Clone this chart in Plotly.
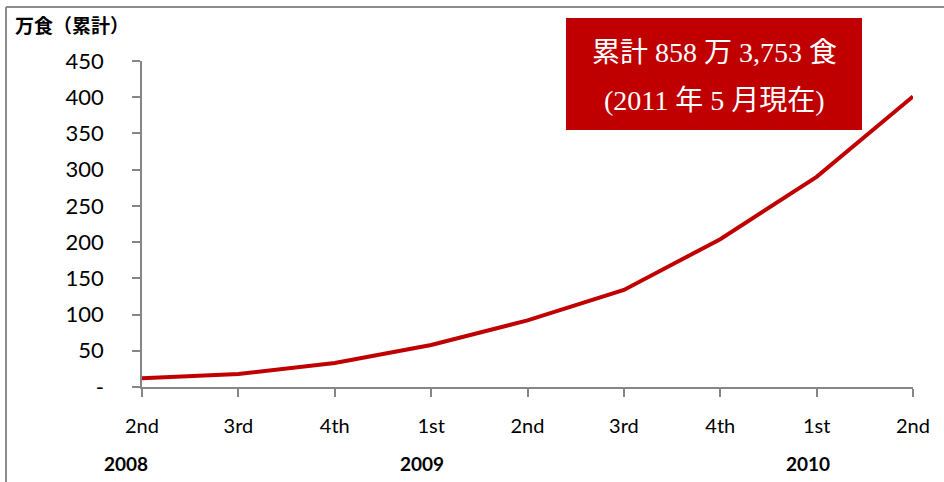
import plotly.graph_objects as go

quarters = ["2nd", "3rd", "4th", "1st", "2nd", "3rd", "4th", "1st", "2nd"]
years = ["2008", "2009", "2010"]
year_pos = [0, 3, 7]
values = [12, 18, 33, 58, 92, 134, 204, 290, 401]
y_ticks = [0, 50, 100, 150, 200, 250, 300, 350, 400, 450]
y_ticktext = ["-"] + [str(v) for v in y_ticks[1:]]

W, H = 944, 482
L, R, T, B = 142, 31, 61, 95
pw, ph = W - L - R, H - T - B

def px(x):
    return (x - L) / pw

def py(y):
    return (H - B - y) / ph

xs = list(range(len(quarters)))

fig = go.Figure()
fig.add_trace(go.Scatter(
    x=xs, y=values, mode="lines",
    line=dict(color="#C00000", width=4),
    hoverinfo="skip", showlegend=False, cliponaxis=False,
))

tickfont = dict(family="Lato, Carlito, 'Noto Sans', sans-serif", size=20, color="#000000")

fig.update_layout(
    width=W, height=H,
    margin=dict(l=L, r=R, t=T, b=B, pad=0),
    paper_bgcolor="white", plot_bgcolor="white",
    xaxis=dict(
        range=[0, 8], tickmode="array", tickvals=xs, ticktext=quarters,
        showgrid=False, zeroline=False, showline=True, linecolor="#868686", linewidth=1.5,
        ticks="outside", ticklen=8, tickcolor="#868686", tickwidth=1.5,
        ticklabelstandoff=12, tickfont=tickfont,
    ),
    yaxis=dict(
        range=[0, 450], tickmode="array", tickvals=y_ticks, ticktext=y_ticktext,
        showgrid=False, zeroline=False, showline=True, linecolor="#868686", linewidth=1.5,
        ticks="outside", ticklen=8, tickcolor="#868686", tickwidth=1.5,
        ticklabelstandoff=24, tickfont=dict(tickfont, size=22),
    ),
    shapes=[
        dict(type="line", xref="paper", yref="paper", x0=px(6), x1=px(944), y0=py(7), y1=py(7),
             line=dict(color="#8c8c8c", width=2)),
        dict(type="line", xref="paper", yref="paper", x0=px(6), x1=px(6), y0=py(7), y1=py(482),
             line=dict(color="#8c8c8c", width=2)),
        dict(type="rect", xref="paper", yref="paper", x0=px(566), x1=px(862), y0=py(18), y1=py(130),
             fillcolor="#C00000", line=dict(width=0), layer="above"),
    ],
)

ann = []
for yr, pos in zip(years, year_pos):
    ann.append(dict(x=pos, y=py(463), xref="x", yref="paper", text="<b>%s</b>" % yr,
                    showarrow=False, xshift=-16 if pos == 0 else -9,
                    font=dict(family="Lato, Carlito, 'Noto Sans', sans-serif", size=19, color="#000"),
                    xanchor="center", yanchor="middle"))
ann.append(dict(x=px(13), y=py(25), xref="paper", yref="paper", text="<b>万食（累計）</b>",
                showarrow=False, xanchor="left", yanchor="middle",
                font=dict(family="'Noto Sans CJK JP', sans-serif", size=19, color="#000")))
serif = "'Liberation Serif', 'Noto Sans CJK JP', serif"
ann.append(dict(x=px(714), y=py(53), xref="paper", yref="paper", text="累計 858 万 3,753 食",
                showarrow=False, xanchor="center", yanchor="middle",
                font=dict(family=serif, size=28, color="white")))
ann.append(dict(x=px(714), y=py(101), xref="paper", yref="paper", text="(2011 年 5 月現在)",
                showarrow=False, xanchor="center", yanchor="middle",
                font=dict(family=serif, size=28, color="white")))
fig.update_layout(annotations=ann)

fig.write_html("out.html", config={"displayModeBar": False},
               post_script="document.body.style.margin='0';document.body.style.overflow='hidden';")
